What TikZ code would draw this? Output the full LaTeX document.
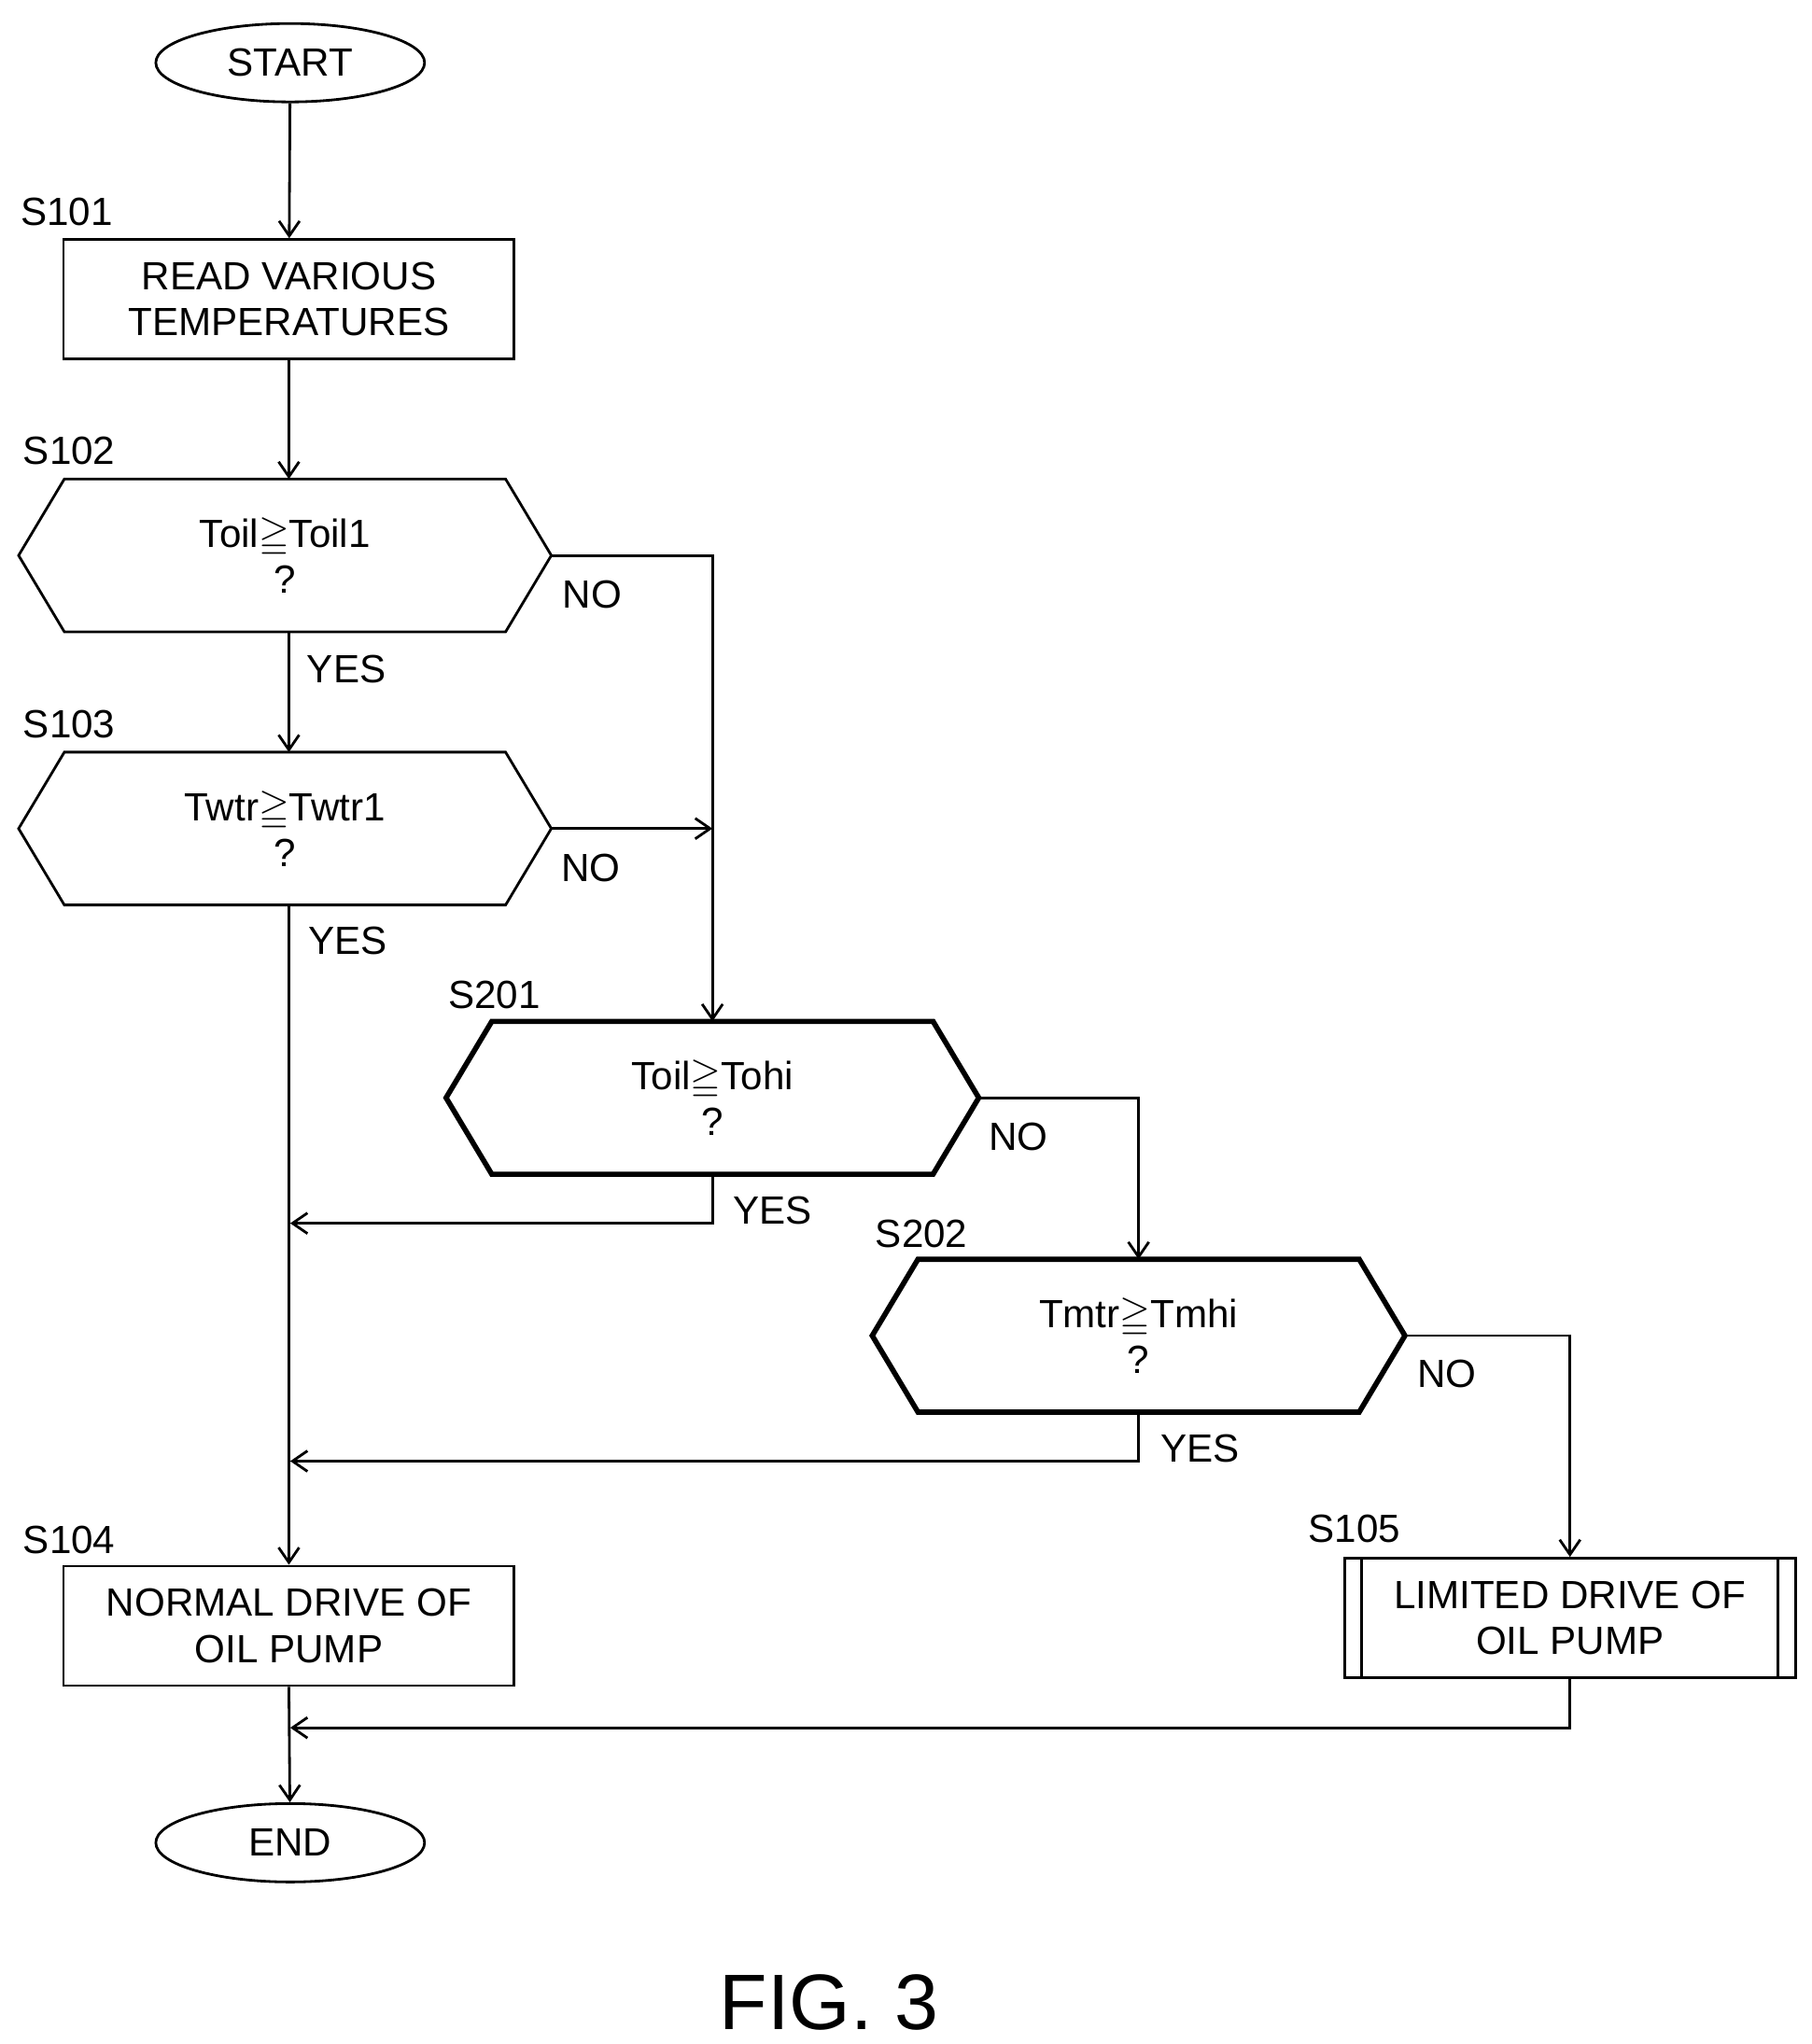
\documentclass[tikz,border=0pt]{standalone}
\usepackage{amssymb}
\usepackage{fontspec}
\setmainfont{Liberation Sans}
\usetikzlibrary{shapes.geometric, positioning}
\usetikzlibrary{arrows.meta}
\tikzset{>={Straight Barb[width=2.2mm,length=1.6mm]}}

\begin{document}
\begin{tikzpicture}[x=0.014cm, y=-0.014cm, font=\fontsize{12}{14}\selectfont, line width=0.8pt,
    term/.style={ellipse, draw, minimum width=2.88cm, minimum height=0.84cm, inner sep=0pt},
    box/.style={rectangle, draw, minimum width=4.83cm, minimum height=1.28cm, align=center, inner sep=0pt},
    ask/.style={rectangle, draw=none, minimum width=5.68cm, minimum height=1.61cm, align=center, inner sep=0pt},
    tag/.style={inner sep=1pt}]
    \useasboundingbox (0,0) rectangle (1386,1564);

    %Nodes
    \node[term](start) at (222,48){START};
    \node[box](read) at (221,229){READ VARIOUS\\TEMPERATURES};
    \node[ask](oil) at (218,425){Toil$\geqq$Toil1\\?};
    \node[ask](wtr) at (218,634){Twtr$\geqq$Twtr1\\?};
    \node[ask](ohi) at (545,840){Toil$\geqq$Tohi\\?};
    \node[ask](mhi) at (871,1022){Tmtr$\geqq$Tmhi\\?};
    \node[box](normal) at (221,1244){NORMAL DRIVE OF\\OIL PUMP};
    \node[box](limited) at (1201,1238){LIMITED DRIVE OF\\OIL PUMP};
    \node[term](end) at (222,1410){END};
    \node[font=\fontsize{24}{26}\selectfont](fig) at (634,1532){FIG. 3};

    %Shapes
    \foreach \n in {oil,wtr}
        \draw (\n.west) -- ([xshift=0.49cm]\n.north west) -- ([xshift=-0.49cm]\n.north east) -- (\n.east)
            -- ([xshift=-0.49cm]\n.south east) -- ([xshift=0.49cm]\n.south west) -- cycle;
    \foreach \n in {ohi,mhi}
        \draw[line width=1.6pt] (\n.west) -- ([xshift=0.49cm]\n.north west) -- ([xshift=-0.49cm]\n.north east) -- (\n.east)
            -- ([xshift=-0.49cm]\n.south east) -- ([xshift=0.49cm]\n.south west) -- cycle;
    \draw ([xshift=0.2cm]limited.north west) -- ([xshift=0.2cm]limited.south west);
    \draw ([xshift=-0.2cm]limited.north east) -- ([xshift=-0.2cm]limited.south east);

    %Labels
    \node[tag] at (51,162){S101};
    \node[tag] at (53,345){S102};
    \node[tag] at (53,554){S103};
    \node[tag] at (378,761){S201};
    \node[tag] at (705,944){S202};
    \node[tag] at (53,1178){S104};
    \node[tag] at (1036,1170){S105};
    \node[tag] at (453,455){NO};
    \node[tag] at (452,664){NO};
    \node[tag] at (779,870){NO};
    \node[tag] at (1107,1051){NO};
    \node[tag] at (265,512){YES};
    \node[tag] at (266,720){YES};
    \node[tag] at (591,926){YES};
    \node[tag] at (918,1108){YES};

    %Lines
    \coordinate (j1) at (545,634);
    \coordinate (j2) at (222,936);
    \coordinate (j3) at (222,1118);
    \coordinate (j4) at (222,1322);
    \draw[->] (start) -- (read);
    \draw[->] (read) -- (oil.north -| read);
    \draw[->] (oil.south -| read) -- (wtr.north -| read);
    \draw[->] (wtr.south -| read) -- (normal.north -| read);
    \draw[->] (oil.east) -| (ohi.north);
    \draw[->] (wtr.east) -- (j1);
    \draw[->] (ohi.south) |- (j2);
    \draw[->] (ohi.east) -| (mhi.north);
    \draw[->] (mhi.south) |- (j3);
    \draw[->] (mhi.east) -| (limited.north);
    \draw[->] (normal.south -| read) -- (end);
    \draw[->] (limited.south) |- (j4);
\end{tikzpicture}
\end{document}
